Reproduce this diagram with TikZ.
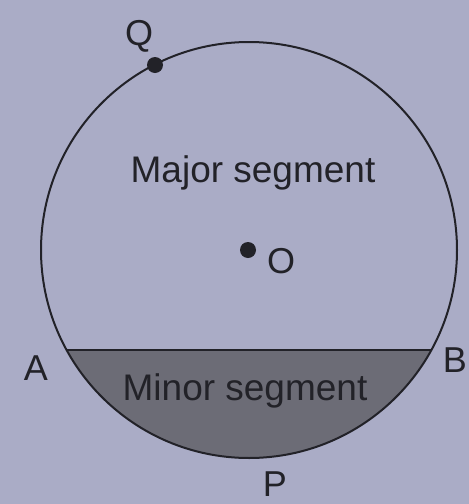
\documentclass[tikz,border=0pt]{standalone}
\usepackage{fontspec}
\setmainfont{Liberation Sans}
\definecolor{paper}{RGB}{170,172,198}
\definecolor{ink}{RGB}{34,34,40}
\definecolor{minorfill}{RGB}{108,108,118}
\begin{document}
\begin{tikzpicture}[x=1pt,y=-1pt,
  lbl/.style={text=ink,anchor=base,inner sep=0pt,font=\fontsize{36}{40}\selectfont},
  seglbl/.style={text=ink,anchor=base,inner sep=0pt,font=\fontsize{37}{40}\selectfont},
  dot/.style={circle,fill=ink,inner sep=0pt,minimum size=16pt}]
\fill[paper] (0,0) rectangle (469,504);
\useasboundingbox (0,0) rectangle (469,504);
\coordinate (O) at (249,250);
\coordinate (A) at (67,350);
\coordinate (B) at (431,350);
\begin{scope}
  \clip (0,350) rectangle (469,504);
  \fill[minorfill] (O) circle (208);
\end{scope}
\draw[ink,line width=2pt] (O) circle (208);
\draw[ink,line width=2.4pt] (A) -- (B);
\node[dot] (q) at (155,65) {};
\node[dot] (c) at (248,250) {};
\node[seglbl] (maj) at (253,182) {Major segment};
\node[seglbl] (min) at (245,400) {Minor segment};
\node[lbl] (la) at (36,380) {A};
\node[lbl] (lb) at (455,372) {B};
\node[lbl] (lp) at (275,496) {P};
\node[lbl] (lo) at (281,273) {O};
\node[lbl] (lq) at (139,45) {Q};
\end{tikzpicture}
\end{document}
